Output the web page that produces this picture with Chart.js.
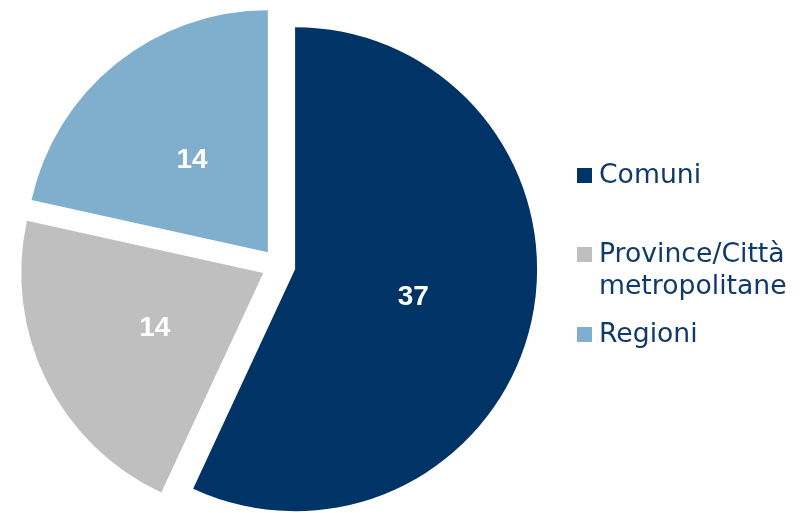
<!DOCTYPE html>
<html>
<head>
<meta charset="utf-8">
<script src="https://cdn.jsdelivr.net/npm/chart.js@4.4.1/dist/chart.umd.min.js"></script>
<style>
  html, body { margin: 0; padding: 0; background: #fff; }
  #wrap { position: relative; width: 810px; height: 513px; overflow: hidden; }
  #legend { position: absolute; left: 0; top: 0; }
  .item { position: absolute; left: 599px; width: 205px;
          font-family: "DejaVu Sans", sans-serif; font-size: 26.67px; line-height: 32px;
          color: #103a6b; }
  .box { position: absolute; left: -22px; top: 10px; width: 15px; height: 15px; }
</style>
</head>
<body>
<div id="wrap">
  <canvas id="myChart" width="810" height="513"></canvas>
  <div id="legend"></div>
</div>
<script>
// chart data
let categories = ["Comuni", "Province/Città metropolitane", "Regioni"];
let values = [37, 14, 14];
let colors = ["#003466", "#bfbfbf", "#7fafcd"];

// top of each legend row (px)
let legendTops = [158, 237, 317];

// Chart.js grows arcs wider than 180deg by their offset and trims their angle;
// undo both so every slice keeps the same radius and straight edges
const radiusFix = {
  id: "radiusFix",
  afterDatasetUpdate(chart, args) {
    args.meta.data.forEach(arc => {
      let off = (arc.options.offset || 0) / 4;
      let grow = off * (1 - Math.sin(Math.min(Math.PI, arc.circumference)));
      let r = arc.outerRadius;
      arc.outerRadius = r - grow;
      let d = grow / (2 * Math.PI * r);
      arc.startAngle -= d;
      arc.endAngle += d;
    });
  }
};

// white value labels in the middle of each slice
const sliceLabels = {
  id: "sliceLabels",
  afterDatasetsDraw(chart) {
    let ctx = chart.ctx;
    let meta = chart.getDatasetMeta(0);
    let radius = chart.options.radius;
    ctx.save();
    ctx.fillStyle = "#ffffff";
    ctx.font = "bold 28px 'Liberation Sans', Arial, sans-serif";
    ctx.textAlign = "center";
    ctx.textBaseline = "middle";
    meta.data.forEach((arc, i) => {
      let half = (arc.startAngle + arc.endAngle) / 2;
      let r = radius / 2 + (arc.options.offset || 0) / 4;
      let x = arc.x + Math.cos(half) * r;
      let y = arc.y + Math.sin(half) * r + 2;
      ctx.fillText(String(values[i]), x, y);
    });
    ctx.restore();
  }
};

let ctx = document.getElementById("myChart").getContext("2d");
let myChart = new Chart(ctx, {
  type: "pie",
  data: {
    labels: categories,
    datasets: [{
      data: values,
      backgroundColor: colors,
      borderWidth: 0,
      offset: 68,
      hoverOffset: 68
    }]
  },
  options: {
    responsive: false,
    animation: false,
    radius: 242,
    layout: { padding: { left: 0, right: 253, top: 18, bottom: 0 } },
    plugins: {
      legend: { display: false },
      tooltip: { enabled: false }
    },
    events: []
  },
  plugins: [radiusFix, sliceLabels]
});

// legend built from the same arrays
let legend = document.getElementById("legend");
categories.forEach((name, i) => {
  let item = document.createElement("div");
  item.className = "item";
  item.style.top = legendTops[i] + "px";
  item.innerHTML = `<span class="box" style="background:${colors[i]}"></span>${name}`;
  legend.appendChild(item);
});
</script>
</body>
</html>
